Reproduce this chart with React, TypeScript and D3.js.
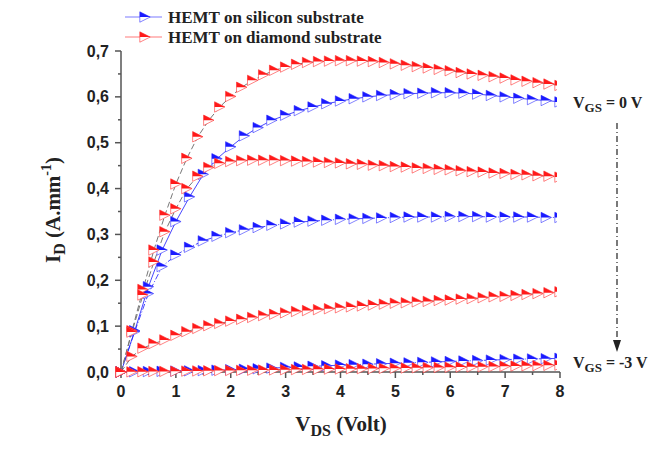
import React from "react";
import * as d3 from "d3";

// ---- DATA ----
const redVds = d3.range(0, 41).map((i) => +(i * 0.2).toFixed(2));
const blueVds = d3.range(0, 33).map((i) => +(i * 0.25).toFixed(2));

const diamondVgs0 = [0, 0.09, 0.18, 0.266, 0.342, 0.41, 0.466, 0.513, 0.549, 0.578, 0.601, 0.621, 0.636, 0.648, 0.658, 0.665, 0.671, 0.675, 0.677, 0.678, 0.679, 0.679, 0.678, 0.677, 0.675, 0.672, 0.669, 0.666, 0.663, 0.66, 0.657, 0.653, 0.65, 0.647, 0.644, 0.641, 0.637, 0.634, 0.631, 0.628, 0.625];
const diamondVgs1 = [0, 0.087, 0.168, 0.24, 0.306, 0.356, 0.4, 0.427, 0.446, 0.455, 0.459, 0.461, 0.462, 0.462, 0.462, 0.461, 0.46, 0.459, 0.458, 0.457, 0.456, 0.454, 0.453, 0.451, 0.45, 0.448, 0.447, 0.445, 0.444, 0.442, 0.441, 0.439, 0.437, 0.436, 0.434, 0.433, 0.431, 0.43, 0.428, 0.427, 0.425];
const diamondVgs2 = [0, 0.034, 0.052, 0.062, 0.07, 0.08, 0.088, 0.095, 0.101, 0.106, 0.111, 0.115, 0.119, 0.123, 0.126, 0.129, 0.132, 0.134, 0.136, 0.138, 0.14, 0.142, 0.144, 0.146, 0.148, 0.15, 0.151, 0.153, 0.154, 0.156, 0.157, 0.159, 0.16, 0.162, 0.164, 0.165, 0.167, 0.169, 0.171, 0.173, 0.175];
const diamondVgs3 = [0, 0.0003, 0.0006, 0.001, 0.0013, 0.0016, 0.002, 0.0023, 0.0026, 0.003, 0.0033, 0.0036, 0.004, 0.0043, 0.0046, 0.005, 0.0053, 0.0056, 0.006, 0.0063, 0.0066, 0.007, 0.0073, 0.0076, 0.008, 0.0084, 0.0088, 0.0092, 0.0096, 0.01, 0.0104, 0.0108, 0.0112, 0.0116, 0.012, 0.0125, 0.013, 0.0135, 0.014, 0.0145, 0.015];

const siliconVgs0 = [0, 0.09, 0.186, 0.266, 0.328, 0.382, 0.431, 0.465, 0.491, 0.515, 0.533, 0.549, 0.56, 0.57, 0.578, 0.585, 0.591, 0.596, 0.6, 0.603, 0.605, 0.607, 0.608, 0.609, 0.609, 0.608, 0.606, 0.603, 0.6, 0.597, 0.594, 0.592, 0.589];
const siliconVgs1 = [0, 0.088, 0.171, 0.23, 0.255, 0.272, 0.286, 0.296, 0.304, 0.31, 0.315, 0.32, 0.323, 0.327, 0.329, 0.331, 0.333, 0.334, 0.335, 0.336, 0.337, 0.338, 0.338, 0.338, 0.339, 0.339, 0.339, 0.338, 0.338, 0.338, 0.338, 0.337, 0.337];
const siliconVgs3 = [0, 0.0005, 0.001, 0.0015, 0.002, 0.0025, 0.003, 0.004, 0.005, 0.006, 0.007, 0.0085, 0.01, 0.011, 0.0125, 0.0135, 0.015, 0.016, 0.017, 0.018, 0.019, 0.02, 0.021, 0.022, 0.023, 0.024, 0.025, 0.026, 0.027, 0.028, 0.0285, 0.029, 0.03];

const xTicks = [0, 1, 2, 3, 4, 5, 6, 7, 8];
const yTicks = [0, 0.1, 0.2, 0.3, 0.4, 0.5, 0.6, 0.7];
const legendLabels = ["HEMT on silicon substrate", "HEMT on diamond substrate"];

// ---- LAYOUT ----
const W = 649, H = 461;
const x = d3.scaleLinear().domain([0, 8]).range([121, 560]);
const y = d3.scaleLinear().domain([0, 0.7]).range([372, 51]);

const BLUE = "#1a1aff";
const RED = "#ff1a1a";

const silicon = [siliconVgs0, siliconVgs1, siliconVgs3];
const diamond = [diamondVgs0, diamondVgs1, diamondVgs2, diamondVgs3];

function Marker({ cx, cy, color }: { cx: number; cy: number; color: string }) {
  const s = 5.2;
  return (
    <g transform={`translate(${cx},${cy})`}>
      <path d={`M${-s},${-s}L${s},0L${-s},${s}Z`} fill="white" stroke={color} strokeWidth={0.9} strokeOpacity={0.6} />
      <path d={`M${-s},${-s}L${s},0L${-s},0Z`} fill={color} />
    </g>
  );
}

export default function App() {
  const line = d3.line<[number, number]>().x((d) => x(d[0])).y((d) => y(d[1]));
  const fmt = (v: number) => v.toFixed(1).replace(".", ",");
  const minorX = d3.range(0, 17).map((i) => i * 0.5);
  const minorY = d3.range(0, 15).map((i) => i * 0.05);
  const serif = "'Liberation Serif', 'Times New Roman', serif";

  return (
    <svg width={W} height={H} style={{ position: "absolute", left: 0, top: 0, background: "#fff" }}>
      <defs>
        <clipPath id="plotclip">
          <rect x={100} y={30} width={x(8) - 3 - 100} height={360} />
        </clipPath>
      </defs>
      {/* axes */}
      <g stroke="#555" strokeWidth={1.5}>
        <line x1={x(0)} x2={x(0)} y1={y(0.7)} y2={y(0)} />
        <line x1={x(0)} x2={x(8)} y1={y(0)} y2={y(0)} />
        {minorY.map((v, i) => (
          <line key={"my" + i} x1={x(0)} x2={x(0) - (i % 2 === 0 ? 6 : 3)} y1={y(v)} y2={y(v)} />
        ))}
        {minorX.map((v, i) => (
          <line key={"mx" + i} x1={x(v)} x2={x(v)} y1={y(0)} y2={y(0) + (i % 2 === 0 ? 6 : 3)} />
        ))}
      </g>
      <g fontFamily="'Liberation Sans', Arial, sans-serif" fontWeight="bold" fontSize={16} fill="#222">
        {yTicks.map((v) => (
          <text key={"yt" + v} x={x(0) - 12} y={y(v)} dy="0.35em" textAnchor="end">{fmt(v)}</text>
        ))}
        {xTicks.map((v) => (
          <text key={"xt" + v} x={x(v)} y={y(0) + 25} textAnchor="middle">{v}</text>
        ))}
      </g>
      {/* axis titles */}
      <text x={341} y={431} textAnchor="middle" fontFamily={serif} fontWeight="bold" fontSize={21} fill="#222">
        V<tspan fontSize={16} dy={5}>DS</tspan><tspan dy={-5}> (Volt)</tspan>
      </text>
      <text transform="translate(60,210) rotate(-90)" textAnchor="middle" fontFamily={serif} fontWeight="bold" fontSize={21} fill="#222">
        I<tspan fontSize={16} dy={5}>D</tspan><tspan dy={-5}> (A.mm</tspan><tspan fontSize={14} dy={-9}>-1</tspan><tspan dy={9}>)</tspan>
      </text>
      {/* curves */}
      <g clipPath="url(#plotclip)">
        {silicon.map((s, k) => (
          <path key={"sl" + k} d={line(s.map((v, i) => [blueVds[i], v]) as [number, number][]) || ""} fill="none" stroke={BLUE} strokeWidth={1} strokeOpacity={0.8} strokeDasharray={k === 0 ? "none" : "6,2,1,2"} />
        ))}
        {diamond.map((s, k) => (
          <path key={"dl" + k} d={line(s.map((v, i) => [redVds[i], v]) as [number, number][]) || ""} fill="none" stroke="#777" strokeWidth={1} strokeDasharray="6,3" />
        ))}
        {silicon.map((s, k) => (
          <g key={"sm" + k}>
            {s.map((v, i) => <Marker key={i} cx={x(blueVds[i])} cy={y(v)} color={BLUE} />)}
          </g>
        ))}
        {diamond.map((s, k) => (
          <g key={"dm" + k}>
            {s.map((v, i) => <Marker key={i} cx={x(redVds[i])} cy={y(v)} color={RED} />)}
          </g>
        ))}
      </g>
      {/* legend */}
      {legendLabels.map((lab, i) => {
        const cy = 17 + i * 20;
        const c = i === 0 ? BLUE : RED;
        return (
          <g key={lab}>
            <line x1={125} x2={162} y1={cy} y2={cy} stroke={i === 0 ? "#7b7bff" : "#ff7b7b"} strokeWidth={1.2} />
            <Marker cx={145} cy={cy} color={c} />
            <text x={168} y={cy} dy="0.35em" fontFamily={serif} fontWeight="bold" fontSize={17} fill="#222">{lab}</text>
          </g>
        );
      })}
      {/* annotations */}
      <g fontFamily={serif} fontWeight="bold" fill="#222">
        <text x={573} y={108} fontSize={16}>V<tspan fontSize={13} dy={4}>GS</tspan><tspan dy={-4}> = 0 V</tspan></text>
        <text x={573} y={368} fontSize={16}>V<tspan fontSize={13} dy={4}>GS</tspan><tspan dy={-4}> = -3 V</tspan></text>
      </g>
      <line x1={617} x2={617} y1={123} y2={343} stroke="#222" strokeWidth={1.2} strokeDasharray="6,3,1,3" />
      <path d="M613,340 L621,340 L617,352 Z" fill="#222" />
    </svg>
  );
}
